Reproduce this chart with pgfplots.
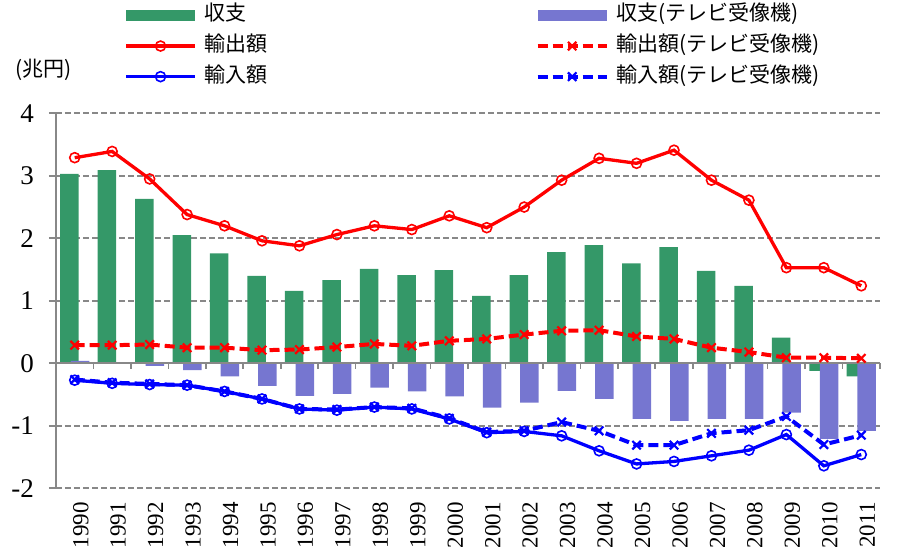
\documentclass[border=0pt]{standalone}
\usepackage{fontspec}
\setmainfont{Liberation Serif}
\newfontfamily\tnr{Liberation Serif}
\newfontfamily\jp{Noto Sans CJK JP}
\usepackage{pgfplots}
\pgfplotsset{compat=1.18}
\definecolor{bargreen}{RGB}{52,152,104}
\definecolor{barpurple}{RGB}{118,118,208}
\definecolor{gridgray}{RGB}{136,136,136}
\pgfplotsset{
  lineleg/.style={legend image code/.code={\draw[mark repeat=2,mark phase=2,##1] plot coordinates {(0pt,0pt) (17.25pt,0pt) (34.5pt,0pt)};}},
  barleg/.style={legend image code/.code={\fill[##1,draw=none] (0pt,-2.75pt) rectangle (34.5pt,2.75pt);}},
}
\begin{document}
\begin{tikzpicture}[x=1pt,y=1pt]
\path[use as bounding box] (0,0) rectangle (451.5,277);
\begin{axis}[
  at={(28pt,32.85pt)}, anchor=south west,
  scale only axis, width=412pt, height=187.5pt,
  xmin=-0.5, xmax=21.5, ymin=-2, ymax=4,
  ytick={-2,-1,0,1,2,3,4},
  yticklabels={-2,-1,0,1,2,3,4},
  xtick={0,...,21},
  xticklabels={1990,1991,1992,1993,1994,1995,1996,1997,1998,1999,2000,2001,2002,2003,2004,2005,2006,2007,2008,2009,2010,2011},
  every y tick label/.style={font=\tnr\fontsize{13.5}{15}\selectfont, anchor=east, xshift=-4pt},
  every x tick label/.style={font=\tnr\fontsize{11.5}{13}\selectfont, rotate=90, anchor=east, yshift=-3pt},
  axis lines=left,
  x axis line style={draw=none,-},
  y axis line style={gridgray, line width=0.85pt, -},
  major x tick style={draw=none},
  major y tick style={gridgray, line width=0.85pt},
  tick align=outside, major tick length=3.5pt,
  ymajorgrids,
  grid style={gridgray, line width=0.85pt, dash pattern=on 3pt off 1.5pt},
  legend columns=2,
  legend cell align=left,
  legend style={draw=none, fill=none, at={(0.0825,1.29)}, anchor=north west,
    inner sep=0pt, column sep=0pt, row sep=4.8pt,
    font=\jp\fontsize{10.5}{12}\selectfont,
    nodes={inner sep=0pt, text height=8pt, text depth=2.5pt}},
  clip=false,
]
\addplot[ybar, bar width=9.25pt, bar shift=-2.65pt, fill=bargreen, draw=none, barleg]
  coordinates {(0,3.03)(1,3.09)(2,2.63)(3,2.05)(4,1.76)(5,1.40)(6,1.16)(7,1.33)(8,1.51)(9,1.41)(10,1.49)(11,1.08)(12,1.41)(13,1.78)(14,1.89)(15,1.60)(16,1.86)(17,1.48)(18,1.24)(19,0.41)(20,-0.12)(21,-0.21)};
\addlegendentry{\makebox[169.5pt][l]{\hspace{4pt}収支}}
\addplot[ybar, bar width=9.25pt, bar shift=2.65pt, fill=barpurple, draw=none, barleg]
  coordinates {(0,0.04)(1,0.01)(2,-0.04)(3,-0.11)(4,-0.21)(5,-0.36)(6,-0.52)(7,-0.49)(8,-0.39)(9,-0.45)(10,-0.53)(11,-0.71)(12,-0.63)(13,-0.44)(14,-0.57)(15,-0.89)(16,-0.92)(17,-0.89)(18,-0.89)(19,-0.79)(20,-1.21)(21,-1.08)};
\addlegendentry{\hspace{4pt}収支(テレビ受像機)}
\draw[gridgray, line width=0.85pt] (axis cs:-0.5,0) -- (axis cs:21.5,0);
\pgfplotsinvokeforeach{0.5,1.5,...,21.5}{\draw[gridgray, line width=0.85pt] (axis cs:#1,0) -- ([yshift=-3pt]axis cs:#1,0);}
\addplot[red, line width=1.65pt, mark=o, mark size=2.5pt, mark options={solid, fill=white, line width=0.8pt}, lineleg]
  coordinates {(0,3.29)(1,3.39)(2,2.95)(3,2.38)(4,2.20)(5,1.96)(6,1.88)(7,2.06)(8,2.20)(9,2.14)(10,2.36)(11,2.17)(12,2.50)(13,2.93)(14,3.28)(15,3.20)(16,3.41)(17,2.93)(18,2.61)(19,1.53)(20,1.53)(21,1.24)};
\addlegendentry{\makebox[169.5pt][l]{\hspace{4pt}輸出額}}
\addplot[red, line width=2pt, dash pattern=on 5pt off 2.5pt, mark=x, mark size=3pt, mark options={solid, line width=1.1pt}, lineleg]
  coordinates {(0,0.29)(1,0.29)(2,0.30)(3,0.25)(4,0.25)(5,0.21)(6,0.22)(7,0.26)(8,0.31)(9,0.28)(10,0.36)(11,0.39)(12,0.46)(13,0.52)(14,0.53)(15,0.43)(16,0.39)(17,0.25)(18,0.18)(19,0.09)(20,0.09)(21,0.08)};
\addlegendentry{\hspace{4pt}輸出額(テレビ受像機)}
\addplot[blue, line width=1.65pt, mark=o, mark size=2.5pt, mark options={solid, fill=white, line width=0.8pt}, lineleg]
  coordinates {(0,-0.27)(1,-0.32)(2,-0.34)(3,-0.35)(4,-0.45)(5,-0.57)(6,-0.73)(7,-0.75)(8,-0.70)(9,-0.73)(10,-0.89)(11,-1.11)(12,-1.09)(13,-1.16)(14,-1.40)(15,-1.61)(16,-1.57)(17,-1.48)(18,-1.39)(19,-1.14)(20,-1.64)(21,-1.46)};
\addlegendentry{\makebox[169.5pt][l]{\hspace{4pt}輸入額}}
\addplot[blue, line width=2pt, dash pattern=on 5pt off 2.5pt, mark=x, mark size=3pt, mark options={solid, line width=1.1pt}, lineleg]
  coordinates {(0,-0.26)(1,-0.31)(2,-0.33)(3,-0.35)(4,-0.45)(5,-0.57)(6,-0.73)(7,-0.74)(8,-0.70)(9,-0.72)(10,-0.88)(11,-1.10)(12,-1.08)(13,-0.94)(14,-1.08)(15,-1.31)(16,-1.31)(17,-1.12)(18,-1.07)(19,-0.85)(20,-1.30)(21,-1.15)};
\addlegendentry{\hspace{4pt}輸入額(テレビ受像機)}
\node[font=\jp\fontsize{10.5}{12}\selectfont, inner sep=0pt] at (rel axis cs:-0.0146,1.1155) {(兆円)};
\end{axis}
\end{tikzpicture}
\end{document}
